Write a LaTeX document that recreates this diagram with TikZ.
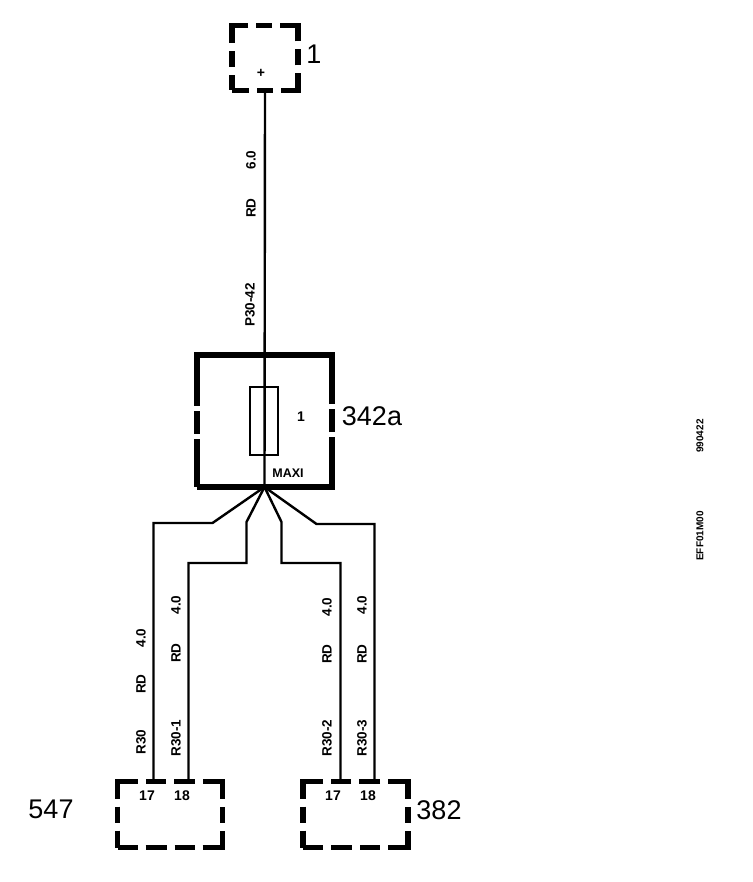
\documentclass[tikz,border=0pt]{standalone}
\usepackage{fontspec}
\setmainfont{Liberation Sans}
\usetikzlibrary{positioning}
\tikzset{
  squarebox/.style={draw,rectangle,line width=5.5pt,outer sep=0pt,minimum width=66pt,minimum height=65pt,
    dash pattern=on 34pt off 8pt on 16pt off 8pt,dash phase=17pt},
  widebox/.style={draw,rectangle,line width=5.5pt,outer sep=0pt,minimum width=105pt,minimum height=66pt,
    dash pattern=on 37pt off 8pt on 21pt off 8pt on 20pt off 8pt on 37pt off 8pt on 16pt off 8pt,dash phase=17pt},
  maxibox/.style={draw,rectangle,line width=6pt,outer sep=0pt,minimum width=135pt,minimum height=132pt,
    dash pattern=on 185pt off 5pt on 23pt off 5pt on 235pt off 5pt on 23pt off 5pt on 50pt off 0pt},
  fusebox/.style={draw,rectangle,line width=2pt,outer sep=0pt,minimum width=28pt,minimum height=68pt},
  wire/.style={line width=2.4pt,line join=miter},
  biglab/.style={inner sep=0pt,font=\fontsize{27}{27}\selectfont},
  pinlab/.style={inner sep=0pt,font=\fontsize{14}{14}\selectfont\bfseries},
  wirelab/.style={inner sep=0pt,rotate=90,font=\fontsize{13.5}{14}\selectfont\bfseries},
  stamplab/.style={inner sep=0pt,rotate=90,font=\fontsize{10}{10}\selectfont\bfseries}
}
\begin{document}
\begin{tikzpicture}[x=1pt,y=1pt]
\useasboundingbox (0,0) rectangle (752,-882);
\node[squarebox] (bat) at (265,-58) {};
\node[maxibox] (maxi) at (264.5,-421) {};
\node[fusebox] (fuse) at (264,-421) {};
\node[widebox] (c547) at (170,-814.5) {};
\node[widebox] (c382) at (355.5,-814.5) {};
%%%%%%%%%%%%%%
\coordinate (fan) at (maxi.south);
\coordinate[below left=36pt and 52pt of fan] (a1);
\coordinate[left=59pt of a1] (a2);
\coordinate[below left=35pt and 18pt of fan] (b1);
\coordinate[below=41pt of b1] (b2);
\coordinate[left=58pt of b2] (b3);
\coordinate[below right=35pt and 17pt of fan] (c1);
\coordinate[below=41pt of c1] (c2);
\coordinate[right=59pt of c2] (c3);
\coordinate[below right=37pt and 52pt of fan] (d1);
\coordinate[right=58pt of d1] (d2);
%%%%%%%%%%%%%%
\draw[wire] (bat.south) -- (fan);
\draw[wire] (fan) -- (a1) -- (a2) -- (a2 |- c547.north);
\draw[wire] (fan) -- (b1) -- (b2) -- (b3) -- (b3 |- c547.north);
\draw[wire] (fan) -- (c1) -- (c2) -- (c3) -- (c3 |- c382.north);
\draw[wire] (fan) -- (d1) -- (d2) -- (d2 |- c382.north);
%%%%%%%%%%%%%%
\node[biglab] (lbat) at (314,-54) {1};
\node[pinlab] (plus) at (261,-73) {+};
\node[biglab] (lmaxi) at (372,-416) {342a};
\node[biglab] (l547) at (51,-809) {547};
\node[biglab] (l382) at (439,-810) {382};
\node[pinlab] (lfuse) at (301,-417) {1};
\node[pinlab,font=\fontsize{12.5}{13}\selectfont\bfseries] (lmx) at (288,-473) {MAXI};
\node[pinlab] (p1) at (147,-796) {17};
\node[pinlab] (p2) at (182,-796) {18};
\node[pinlab] (p3) at (333,-796) {17};
\node[pinlab] (p4) at (368,-796) {18};
%%%%%%%%%%%%%%
\node[wirelab] (w1) at (251,-160) {6.0};
\node[wirelab] (w2) at (251,-208) {RD};
\node[wirelab] (w3) at (250,-305) {P30-42};
\node[wirelab] (w4) at (141,-638) {4.0};
\node[wirelab] (w5) at (141,-684) {RD};
\node[wirelab] (w6) at (141,-742) {R30};
\node[wirelab] (w7) at (176,-605) {4.0};
\node[wirelab] (w8) at (176,-653) {RD};
\node[wirelab] (w9) at (176,-738) {R30-1};
\node[wirelab] (w10) at (327,-607) {4.0};
\node[wirelab] (w11) at (327,-654) {RD};
\node[wirelab] (w12) at (327,-738) {R30-2};
\node[wirelab] (w13) at (362,-605) {4.0};
\node[wirelab] (w14) at (362,-654) {RD};
\node[wirelab] (w15) at (362,-738) {R30-3};
%%%%%%%%%%%%%%
\node[stamplab] (s1) at (700,-436) {990422};
\node[stamplab] (s2) at (700,-536) {EFF01M00};
\end{tikzpicture}
\end{document}
